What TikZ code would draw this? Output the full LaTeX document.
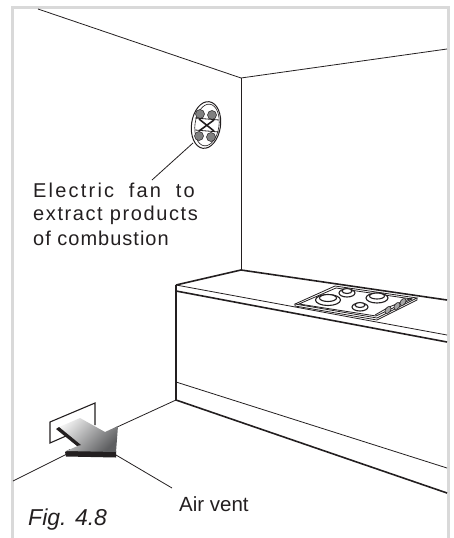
\documentclass[tikz,border=0pt]{standalone}
\usepackage{fontspec}
\usepackage{xcolor}
\setmainfont{Liberation Sans}
\usetikzlibrary{shapes.geometric, positioning, calc}
\definecolor{framegray}{HTML}{D9D9D9}
\definecolor{inkblack}{HTML}{231F20}
\definecolor{ventgray}{HTML}{5E5F61}
\tikzstyle{thinline} = [draw=inkblack, line width=0.8pt]
\tikzstyle{thickline} = [draw=inkblack, line width=1.6pt]
\tikzstyle{hobline} = [draw=inkblack, line width=0.8pt]
\tikzstyle{burner} = [ellipse, draw=inkblack, fill=white, line width=1.1pt, inner sep=0pt]
\tikzstyle{knob} = [ellipse, draw=inkblack, fill=black!35, line width=0.6pt, inner sep=0pt, minimum width=5pt, minimum height=8pt, rotate=-35]
\tikzstyle{pod} = [ellipse, draw=inkblack, fill=black!50, line width=0.5pt, inner sep=0pt, minimum width=9pt, minimum height=9pt]
\tikzstyle{caption} = [inkblack, inner sep=0pt, anchor=base west]
\newfontface\wordfontone[LetterSpace=11]{Liberation Sans}
\newfontface\wordfonttwo[LetterSpace=8]{Liberation Sans}
\newfontface\wordfontthree[LetterSpace=5]{Liberation Sans}

\begin{document}
\begin{tikzpicture}[x=1pt, y=-1pt]
    \useasboundingbox (0,0) rectangle (453,538);
    % Frame
    \draw[framegray, line width=3pt] (12,538) -- (12,7.5) -- (448.5,7.5) -- (448.5,538);

    % Room corners
    \coordinate (ceilcorner) at (241,78);
    \coordinate (backcorner) at (241,270);
    \draw[thinline] (38,9) -- (ceilcorner) -- (447,49);
    \draw[thinline] (ceilcorner) -- (backcorner);

    % Worktop and cabinet
    \coordinate (toptip) at (176,285);
    \coordinate (basetip) at (176,400);
    \draw[thickline] (toptip) -- (backcorner) -- (447,300);
    \draw[thinline] (toptip) -- (447,335);
    \draw[thickline] (176,291) -- (447,342);
    \draw[thickline] (toptip) -- (basetip) -- (447,493);
    \draw[thinline] (176,382) -- (447,468);

    % Floor lines
    \coordinate (airleader) at (172,488);
    \draw[thinline] (basetip) -- (115,428);
    \draw[thinline] (67,454) -- (13,481);
    \draw[thinline] (116,455) -- (airleader);

    % Hob
    \draw[hobline, fill=white] (295,304) -- (335,286) -- (417,298) -- (377,318) -- cycle;
    \draw[hobline] (299,304) -- (336,288) -- (412,299) -- (376,316) -- cycle;
    \draw[hobline] (295,304) -- (295,306) -- (377,320) -- (417,300) -- (417,298);
    \draw[hobline] (375,315) -- (389,307) -- (412,298);
    \node[burner, minimum width=25pt, minimum height=11pt] (burnerleft) at (328,300) {};
    \node[burner, minimum width=17pt, minimum height=7pt] at (328,298) {};
    \node[burner, minimum width=16pt, minimum height=8pt] (burnerback) at (347,293) {};
    \node[burner, minimum width=10pt, minimum height=5pt] at (347,291) {};
    \node[burner, minimum width=22pt, minimum height=10pt] (burnerright) at (377,298) {};
    \node[burner, minimum width=15pt, minimum height=6pt] at (377,296) {};
    \node[burner, minimum width=16pt, minimum height=8pt] (burnerfront) at (360,307) {};
    \node[burner, minimum width=10pt, minimum height=5pt] at (360,305) {};
    \foreach \kx/\ky in {388/310, 397/306, 403/302}
        \node[knob] at (\kx,\ky) {};

    % Fan on the wall
    \node[ellipse, draw=inkblack, fill=white, line width=1pt, minimum width=29pt, minimum height=47pt, inner sep=0pt, rotate=-8] (fan) at (206,125) {};
    \node[ellipse, draw=inkblack, line width=0.6pt, minimum width=24pt, minimum height=42pt, inner sep=0pt, rotate=-8] (fancover) at (207,125) {};
    \foreach \px/\py in {200/114, 212/115, 199/136, 211/137}
        \node[pod] at (\px,\py) {};
    \draw[hobline] (195,118) -- (219,120);
    \draw[hobline] (195,130) -- (219,132);
    \draw[thinline, line width=1.6pt] (199,119) -- (214,131);
    \draw[thinline, line width=1.6pt] (214,120) -- (199,131);
    \coordinate (fanleader) at (152,180);
    \draw[thinline] (193,143) -- (fanleader);

    % Fan label
    \node[caption, font=\wordfontone\fontsize{20}{22}\selectfont] (labelone) at (33,197) {Electric\hspace{7pt} fan\hspace{7pt} to};
    \node[caption, font=\wordfonttwo\fontsize{20}{22}\selectfont] (labeltwo) at (33,220) {extract products};
    \node[caption, font=\wordfontthree\fontsize{20}{22}\selectfont] (labelthree) at (33,245) {of combustion};

    % Vent and arrow
    \draw[thinline, line width=1.1pt, fill=white] (95,425) -- (95,403) -- (50,422) -- (50,443) -- (66,436);
    \fill[inkblack] (65,452) -- (70,449) -- (116,451) -- (116,457.5) -- (66,456.5) -- cycle;
    \shade[top color=black!6, bottom color=ventgray, shading angle=45] (80,418) -- (105,432) -- (118,426) -- (116,452) -- (66,451) -- (80,445) -- (57,428) -- cycle;
    \fill[inkblack] (56,429) -- (59,427) -- (81,445) -- (77,446) -- cycle;

    % Captions
    \node[caption, font=\fontsize{20.5}{23}\selectfont] (airvent) at (179,511) {Air vent};
    \node[caption, font=\itshape\fontsize{23}{26}\selectfont] (figlabel) at (28,525) {Fig. 4.8};
\end{tikzpicture}
\end{document}
